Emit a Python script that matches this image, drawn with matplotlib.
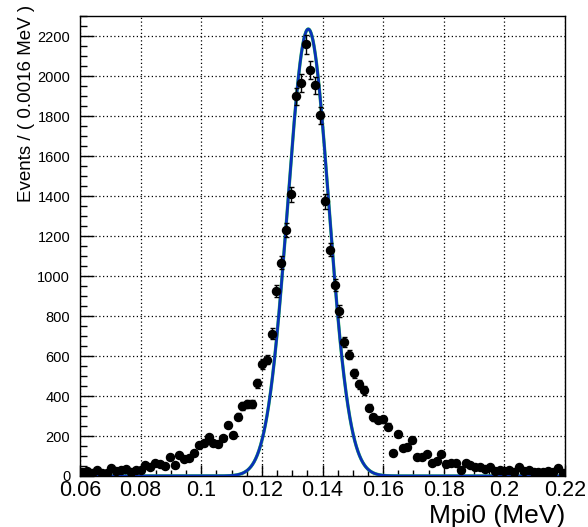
import numpy as np
import matplotlib
matplotlib.use("Agg")
import matplotlib.pyplot as plt
from matplotlib.ticker import MultipleLocator

plt.rcParams['font.family'] = ['Liberation Sans', 'DejaVu Sans']

# histogram binning: 100 bins of 0.0016 between 0.06 and 0.22
X_MIN = 0.06
X_MAX = 0.22
BIN_W = 0.0016

# events per bin
counts = [20, 25, 15, 30, 15, 15, 38, 25, 30, 35,
          22, 30, 32, 55, 45, 67, 60, 50, 93, 55,
          105, 83, 90, 117, 155, 163, 193, 163, 160, 188,
          255, 205, 297, 350, 360, 360, 463, 560, 583, 713,
          927, 1068, 1230, 1410, 1900, 1968, 2160, 2030, 1955, 1805,
          1375, 1133, 955, 825, 672, 608, 513, 458, 428, 342,
          293, 280, 283, 247, 117, 212, 140, 143, 180, 93,
          97, 108, 67, 75, 110, 60, 63, 67, 30, 67,
          55, 47, 47, 33, 47, 27, 30, 27, 30, 22,
          47, 27, 30, 22, 22, 22, 27, 22, 40, 15]

# fitted gaussian (total pdf in blue, signal component in green)
fit_mean = 0.1353
fit_sigma = 0.0068
fit_peak = 2237

x_ticks = [0.06, 0.08, 0.1, 0.12, 0.14, 0.16, 0.18, 0.2, 0.22]
x_tick_labels = ["0.06", "0.08", "0.1", "0.12", "0.14", "0.16", "0.18", "0.2", "0.22"]
Y_MAX = 2300

centers = X_MIN + BIN_W * (np.arange(len(counts)) + 0.5)
counts = np.array(counts, dtype=float)
errs = np.sqrt(counts)

fig = plt.figure(figsize=(5.88, 5.27), dpi=100)
ax = fig.add_axes([0.136, 0.0968, 0.825, 0.872])

xs = np.linspace(X_MIN, X_MAX, 1500)
curve = fit_peak * np.exp(-0.5 * ((xs - fit_mean) / fit_sigma) ** 2)
ax.plot(xs, curve, color='#33cc55', lw=2.4, zorder=3)
ax.plot(xs, curve, color='#0a30b8', lw=2.0, zorder=4)

ax.errorbar(centers, counts, yerr=errs, xerr=BIN_W / 2, fmt='o', color='black',
            ms=5.8, elinewidth=1.0, capsize=1.8, capthick=1.0, zorder=5)

ax.set_xlim(X_MIN, X_MAX)
ax.set_ylim(0, Y_MAX)
ax.set_xticks(x_ticks)
ax.set_xticklabels(x_tick_labels)
ax.xaxis.set_minor_locator(MultipleLocator(0.005))
ax.yaxis.set_major_locator(MultipleLocator(200))
ax.yaxis.set_minor_locator(MultipleLocator(50))

ax.tick_params(axis='x', which='major', direction='in', length=8, width=1,
               labelsize=15.5, pad=3, top=False)
ax.tick_params(axis='x', which='minor', direction='in', length=4.5, width=1, top=False)
ax.tick_params(axis='y', which='major', direction='in', length=10, width=1,
               labelsize=10.5, pad=7, right=False)
ax.tick_params(axis='y', which='minor', direction='in', length=5, width=1, right=False)

ax.grid(True, which='major', color='black', linestyle=(0, (1, 2)), linewidth=0.9)
ax.set_axisbelow(True)
for sp in ax.spines.values():
    sp.set_linewidth(1.0)

fig.text(0.961, 0.008, "Mpi0 (MeV)", ha='right', va='baseline', fontsize=19)
fig.text(0.045, 0.99, "Events / ( 0.0016 MeV )", rotation=90, ha='center',
         va='top', fontsize=13.5)

fig.savefig("out.png", dpi=100)
